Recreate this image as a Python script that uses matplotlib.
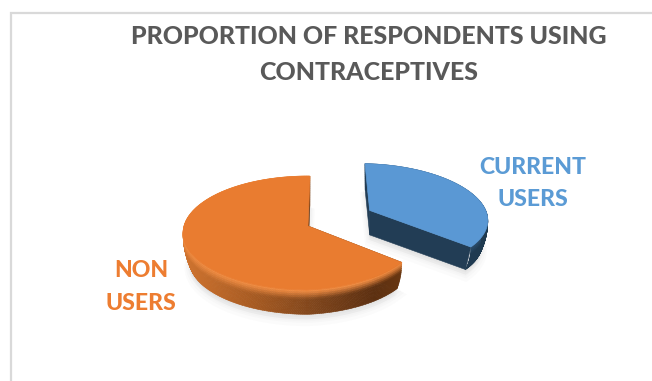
import numpy as np
import matplotlib
matplotlib.use("Agg")
import matplotlib.pyplot as plt
from matplotlib.collections import PolyCollection
from matplotlib.colors import to_rgb
from matplotlib.patches import Polygon

# Chart content
title_lines = ["PROPORTION OF RESPONDENTS USING", "CONTRACEPTIVES"]
categories = ["CURRENT\nUSERS", "NON\nUSERS"]
shares = [36, 64]
label_colors = ["#5b9bd5", "#ed7d31"]

# Pie geometry, in figure pixels
W, H = 652, 381
CX, CY = 308, 226
RX, RY, PERSP = 124.0, 56.1, 0.123
DEPTH = 28.0
START_ANGLE = 89.0
EXPLODE = 0.59
EXPLODE_TURN = 5.0
WALL_INSET = 0.05


def project(x, y, drop=0.0, pinch=0.0, ox=0.0):
    w = 1 + PERSP * y
    px, py = RX * x / w, -RY * y / w
    # optional narrowing of the right-hand rim
    if pinch:
        f = 1 - pinch * np.clip(np.asarray(x) - ox, 0, 1)
        px, py = px * f, py * f
    return CX + px, CY + py + drop


def lerp_color(a, b, t):
    a, b = np.array(to_rgb(a)), np.array(to_rgb(b))
    return tuple(a + (b - a) * np.clip(t, 0, 1))


def ramp(stops, x):
    xs = [s[0] for s in stops]
    cs = np.array([to_rgb(s[1]) for s in stops])
    return tuple(np.interp(x, xs, cs[:, i]) for i in range(3))


def draw_slice(ax, t0, t1, ox, oy, face, wall_stops, cut_color, depth, highlight, pinch=0.0):
    th = np.radians(np.linspace(t0, t1, 260))
    ring_x = ox + np.cos(th)
    ring_y = oy + np.sin(th)

    def proj(x, y, drop=0.0):
        return project(x, y, drop, pinch, ox)

    def pt(k, s):
        inset = 1 - WALL_INSET * s ** 2
        return proj(ox + np.cos(th[k]) * inset, oy + np.sin(th[k]) * inset, depth * s)

    # soft ground shadow
    base_ring = [pt(k, 1.0) for k in range(len(th))]
    shadow = np.array([proj(ox, oy, depth)] + base_ring)
    for grow, alpha in [(7, 0.025), (5, 0.03), (3, 0.04), (1, 0.05)]:
        ax.add_patch(Polygon(shadow + [0, grow], closed=True, fc="#7f7f7f",
                             ec="#7f7f7f", lw=grow, alpha=alpha, zorder=1))

    # straight cut faces, drawn as flat extrusions
    for k in (0, len(th) - 1):
        corners = [proj(ox, oy), pt(k, 0.0), pt(k, 1.0), proj(ox, oy, depth)]
        ax.add_patch(Polygon(corners, closed=True, fc=cut_color, ec=cut_color, lw=0.4, zorder=2))

    # curved outer wall with a rounded profile toward the base
    rows = np.linspace(0, 1, 15)
    quads, colors = [], []
    for i in range(len(th) - 1):
        for j in range(len(rows) - 1):
            q = [pt(i, rows[j]), pt(i + 1, rows[j]), pt(i + 1, rows[j + 1]), pt(i, rows[j + 1])]
            xm = np.mean([p[0] for p in q])
            base = ramp(wall_stops, xm)
            s = rows[j]
            c = lerp_color(highlight, base, (s - 0.02) / 0.3) if s < 0.32 else base
            quads.append(q)
            colors.append(c)
    ax.add_collection(PolyCollection(quads, facecolors=colors, edgecolors=colors,
                                     linewidths=0.4, zorder=3))

    # flat top face
    fx, fy = proj(np.r_[ox, ring_x], np.r_[oy, ring_y])
    ax.add_patch(Polygon(np.c_[fx, fy], closed=True, fc=face, ec=face, lw=0.5, zorder=4))


plt.rcParams["font.family"] = ["Lato", "DejaVu Sans"]
fig = plt.figure(figsize=(W / 100, H / 100), dpi=100, facecolor="white")
ax = fig.add_axes([0, 0, 1, 1])
ax.set_xlim(0, W)
ax.set_ylim(H, 0)
ax.axis("off")

# Chart-area frame: only the top and left edges fall inside the canvas
ax.plot([11, 11, W], [H, 12.5, 12.5], color="#d9d9d9", lw=1.6, solid_joinstyle="miter", zorder=0)

sweep = [360 * v / sum(shares) for v in shares]

# Current users: exploded slice, starting at the first-slice angle and running clockwise
end_current = START_ANGLE - sweep[0]
mid = np.radians((START_ANGLE + end_current) / 2 + EXPLODE_TURN)
draw_slice(ax, end_current, START_ANGLE, EXPLODE * np.cos(mid), EXPLODE * np.sin(mid),
           "#5a98d4", [(360, "#223d55"), (490, "#1f3a50")], "#223d55", 24.5, "#2b4c6b", pinch=0.02)

# Non users: remainder of the circle
draw_slice(ax, START_ANGLE, end_current + 360, 0, 0, "#e97c30",
           [(185, "#cf7430"), (250, "#aa5c22"), (320, "#7c431a"), (375, "#5c2f10"), (405, "#6a3812")],
           "#6a3812", DEPTH, "#ee8a40", pinch=0.11)

for line, y in zip(title_lines, [36, 72]):
    ax.text(368.5, y, line, ha="center", va="center", fontsize=17.95, fontweight=900,
            color="#595959")

label_spots = [(533, 183.5), (141, 287)]
for text, (x, y), color in zip(categories, label_spots, label_colors):
    ax.text(x, y, text, ha="center", va="center", fontsize=16.6, fontweight=900,
            color=color, linespacing=1.65)

fig.savefig("out.png", dpi=100, facecolor="white")
